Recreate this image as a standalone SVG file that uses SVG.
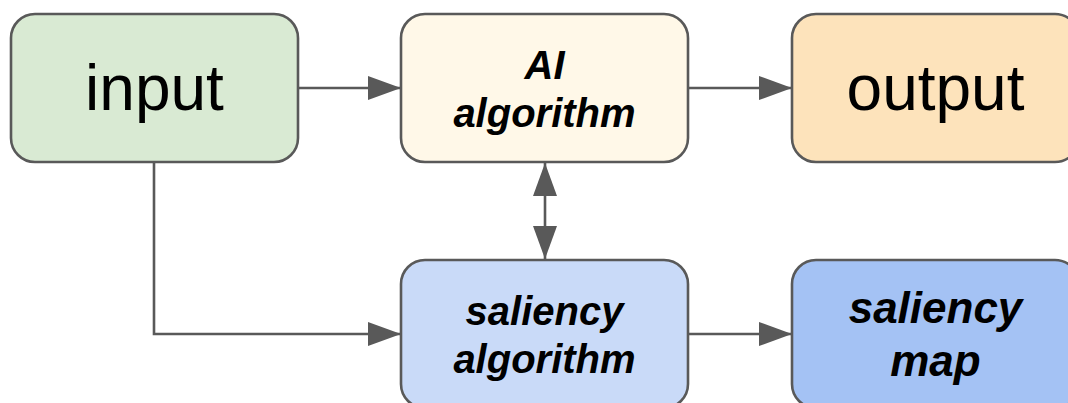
<svg xmlns="http://www.w3.org/2000/svg" width="1068" height="403" viewBox="0 0 1068 403">
  <style>
    .box { stroke: #595959; stroke-width: 2.6; }
    .plain { font-family: "Liberation Sans", Arial, sans-serif; font-size: 64px; fill: #000; text-anchor: middle; }
    .emph { font-family: "Liberation Sans", Arial, sans-serif; font-size: 40px; font-weight: bold; font-style: italic; fill: #000; text-anchor: middle; }
    .emph-lg { font-size: 44px; }
    .wire { fill: none; stroke: #595959; stroke-width: 2.6; }
  </style>
  <defs>
    <marker id="head" markerUnits="userSpaceOnUse" markerWidth="34" markerHeight="24" viewBox="0 0 33 24" refX="33" refY="12" orient="auto-start-reverse">
      <path d="M0,0 L33,12 L0,24 Z" fill="#595959"/>
    </marker>
  </defs>

  <rect width="1068" height="403" fill="#ffffff"/>

  <!-- connectors -->
  <g id="connectors">
    <line class="wire" x1="298" y1="88" x2="401" y2="88" marker-end="url(#head)"/>
    <line class="wire" x1="688" y1="88" x2="792" y2="88" marker-end="url(#head)"/>
    <polyline class="wire" points="154,162 154,334 401,334" marker-end="url(#head)"/>
    <line class="wire" x1="688" y1="334" x2="792" y2="334" marker-end="url(#head)"/>
    <line class="wire" x1="545" y1="163" x2="545" y2="259" marker-start="url(#head)" marker-end="url(#head)"/>
  </g>

  <!-- nodes -->
  <g id="input">
    <rect class="box" x="11" y="14" width="287" height="148" rx="24" fill="#d9ead3"/>
    <text class="plain" x="154.5" y="110">input</text>
  </g>

  <g id="ai-algorithm">
    <rect class="box" x="401" y="14" width="287" height="148" rx="24" fill="#fff8e8"/>
    <text class="emph" x="544.5" y="79">AI</text>
    <text class="emph" x="544.5" y="127">algorithm</text>
  </g>

  <g id="output">
    <rect class="box" x="792" y="14" width="287" height="148" rx="24" fill="#fde3bb"/>
    <text class="plain" x="935.5" y="110">output</text>
  </g>

  <g id="saliency-algorithm">
    <rect class="box" x="401" y="260" width="287" height="148" rx="24" fill="#c9daf8"/>
    <text class="emph" x="544.5" y="325">saliency</text>
    <text class="emph" x="544.5" y="373">algorithm</text>
  </g>

  <g id="saliency-map">
    <rect class="box" x="792" y="260" width="287" height="148" rx="24" fill="#a4c2f4"/>
    <text class="emph emph-lg" x="935.5" y="323">saliency</text>
    <text class="emph emph-lg" x="935.5" y="376">map</text>
  </g>
</svg>
